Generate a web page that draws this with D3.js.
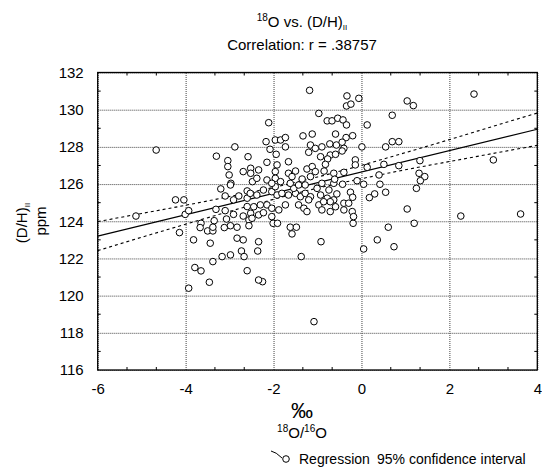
<!DOCTYPE html>
<html>
<head>
<meta charset="utf-8">
<script src="https://cdn.jsdelivr.net/npm/d3@7"></script>
<style>
  body { margin: 0; background: #fff; }
  svg text { font-family: "Liberation Sans", Arial, Helvetica, sans-serif; fill: #000; }
</style>
</head>
<body>
<svg id="chart" width="542" height="473"></svg>
<script>
// δ18O (‰) of each sample
const deltaO18 = [
  -4.67,-2.88,-3.30,-3.04,-2.58,-3.04,-3.01,-2.69,-2.52,-2.52,-2.97,-2.48,
  -1.18,-0.33,-0.06,-0.34,-0.24,-0.97,-2.11,-0.78,-0.67,-0.54,-0.42,-0.34,0.13,0.70,
  -1.33,-1.12,-0.59,-0.35,-0.20,-2.17,-1.96,-1.84,-1.73,
  -2.08,-1.73,-1.16,-1.05,-0.90,-0.72,-0.57,-0.44,-0.40,0.01,0.55,0.70,
  -1.94,-1.20,-0.93,-0.71,-0.59,-0.44,-0.77,-0.82,
  -2.15,-1.92,-1.66,-0.14,-0.14,0.13,0.51,
  -2.34,-1.96,-1.66,-1.50,-1.24,-1.12,-1.05,-0.85,
  -2.38,-2.15,-1.96,-1.58,-1.35,-1.16,-0.63,-0.40,0.40,
  2.56,1.04,1.18,0.85,0.85,1.33,3.00,1.31,1.44,1.34,
  -2.98,-3.20,-2.60,-3.10,-2.91,-2.79,-4.23,-4.04,-2.60,-2.60,
  -5.13,-4.01,-3.93,-3.31,-3.10,-2.91,-2.69,-2.52,-2.56,-3.07,-3.35,
  -3.65,-3.67,-3.50,-3.38,-3.38,-3.12,-2.98,-2.83,-2.56,
  -4.14,-3.82,-2.83,-2.69,-3.44,-2.73,-2.67,-2.98,-3.17,-3.38,
  -3.79,-3.65,-2.60,-3.46,-3.93,-2.25,-2.34,-1.08,
  -2.34,-2.36,-2.01,-1.91,-1.62,-1.48,-1.58,-0.92,-1.37,-0.19,0.05,0.36,0.61,0.74,
  1.25,1.04,1.20,2.26,3.62,
  -2.53,-2.38,-2.23,-2.04,-1.92,-1.81,-1.66,-1.50,-1.39,-1.28,-1.16,-0.93,-0.78,-0.63,
  -1.54,-1.01,-1.96,-0.74,
  -2.45,-2.30,-2.15,-2.04,-1.88,-1.73,-1.43,-1.31,-1.24,-0.97,-0.90,-0.71,-0.59,
  -2.49,-2.34,-2.23,-2.04,
  -2.04,-1.62,-1.43,-1.28,-0.90,-0.63,-1.84,
  -0.43,-0.61,-0.10,0.05,0.42,-0.56,-0.25,-0.20,0.30,0.18,0.55,
  -0.71,-0.40,-0.29,-0.40,-0.21,-0.18,-1.20,-0.86
];

// (D/H)II in ppm, same order as deltaO18
const dhII = [
  127.83,128.00,127.50,127.26,127.47,126.94,126.49,126.67,126.85,126.58,126.04,126.13,
  131.04,130.74,130.61,130.20,130.30,129.80,129.30,129.40,129.40,129.54,129.45,129.18,129.18,129.70,
  128.59,128.69,128.69,128.50,128.60,128.28,128.37,128.37,128.50,
  127.87,128.00,128.10,127.92,128.00,128.16,128.10,128.25,127.92,128.00,128.00,128.28,
  127.60,127.71,127.47,127.56,127.60,127.78,127.35,127.06,
  127.17,127.03,127.20,127.30,127.03,126.90,127.06,
  126.76,126.67,126.58,126.70,126.81,126.94,126.67,126.70,
  126.31,126.22,126.31,126.40,126.27,126.40,126.58,126.63,126.49,
  130.84,130.47,130.22,128.28,126.99,127.26,127.30,126.58,126.40,126.18,
  125.95,125.74,125.63,125.36,125.15,125.36,125.15,125.15,125.24,124.79,
  124.28,124.37,124.57,124.64,124.57,124.37,124.28,124.43,124.07,124.12,124.03,
  123.89,123.66,123.48,123.48,123.68,123.66,123.76,123.68,123.76,
  123.39,123.00,123.09,123.00,122.82,122.40,122.10,122.19,122.10,121.83,
  121.51,121.33,121.34,120.72,120.40,120.75,120.84,118.60,
  122.90,122.40,123.89,123.89,123.68,123.68,123.32,122.90,122.10,123.89,122.51,123.00,123.68,122.63,
  125.77,124.66,123.89,124.28,124.39,
  125.50,125.41,125.68,125.59,125.41,125.50,125.41,125.50,125.32,125.50,125.32,125.41,125.24,125.15,
  125.77,125.77,125.86,125.68,
  124.78,124.88,124.88,124.70,124.61,124.88,124.88,124.70,124.52,124.88,124.61,124.52,124.78,
  124.16,124.34,124.46,124.25,
  126.04,126.04,125.95,125.95,126.04,126.04,126.13,
  125.99,126.26,126.18,125.99,125.99,125.47,125.56,125.29,125.47,125.27,125.56,
  125.05,124.97,124.97,124.61,124.52,124.25,125.15,125.05
];

// Fitted regression line and its 95% confidence band
const fitX = [-6, 4];
const fitY = [123.20, 128.95];
const bandX = [-6, -5, -4, -3, -2, -1, 0, 1, 2, 3, 4];
const bandUpper = [123.98,124.42,124.86,125.33,125.82,126.38,127.01,127.69,128.39,129.11,129.82];
const bandLower = [122.42,123.14,123.84,124.53,125.18,125.78,126.29,126.77,127.21,127.65,128.08];

// Axis ticks
const xTicks = [-6, -4, -2, 0, 2, 4];
const yTicks = [116, 118, 120, 122, 124, 126, 128, 130, 132];

const svg = d3.select("#chart");
const pL = 97.7, pR = 537.3, pT = 72.5, pB = 370;

const x = d3.scaleLinear().domain([-6, 4]).range([pL, pR]);
const y = d3.scaleLinear().domain([116, 132]).range([pB, pT]);

// dotted grid + tick labels
const gx = svg.append("g")
  .attr("transform", `translate(0,${pB})`)
  .call(d3.axisBottom(x).tickValues(xTicks).tickFormat(d3.format("d"))
    .tickSizeInner(-(pB - pT)).tickSizeOuter(0).tickPadding(13));
const gy = svg.append("g")
  .attr("transform", `translate(${pL},0)`)
  .call(d3.axisLeft(y).tickValues(yTicks).tickFormat(d3.format("d"))
    .tickSizeInner(-(pR - pL)).tickSizeOuter(0).tickPadding(14));
[gx, gy].forEach(g => {
  g.select(".domain").remove();
  g.selectAll(".tick line").attr("stroke", "#444").attr("stroke-dasharray", "1,1");
  g.selectAll(".tick text").style("font-size", "15px").attr("fill", "#000");
});
gx.selectAll(".tick text").text(d => d < 0 ? "-" + Math.abs(d) : d);

// minor inward ticks on the frame
const xMinor = d3.range(-6, 4.001, 2 / 3).filter(v => Math.abs(v / 2 - Math.round(v / 2)) > 0.01);
const yMinor = d3.range(116, 132.001, 1).filter(v => v % 2 !== 0);
const minor = svg.append("g").attr("stroke", "#000").attr("stroke-width", 1);
xMinor.forEach(v => {
  minor.append("line").attr("x1", x(v)).attr("x2", x(v)).attr("y1", pB).attr("y2", pB - 3);
  minor.append("line").attr("x1", x(v)).attr("x2", x(v)).attr("y1", pT).attr("y2", pT + 3);
});
yMinor.forEach(v => {
  minor.append("line").attr("x1", pL).attr("x2", pL + 3).attr("y1", y(v)).attr("y2", y(v));
  minor.append("line").attr("x1", pR).attr("x2", pR - 3).attr("y1", y(v)).attr("y2", y(v));
});

// regression line and confidence band
svg.append("clipPath").attr("id", "plot-clip")
  .append("rect").attr("x", pL).attr("y", pT).attr("width", pR - pL).attr("height", pB - pT);
const plot = svg.append("g").attr("clip-path", "url(#plot-clip)");

const bandLine = d3.line().curve(d3.curveNatural).x(d => x(d[0])).y(d => y(d[1]));
[bandUpper, bandLower].forEach(b => {
  plot.append("path")
    .attr("d", bandLine(bandX.map((v, i) => [v, b[i]])))
    .attr("fill", "none").attr("stroke", "#000").attr("stroke-width", 1.1)
    .attr("stroke-dasharray", "3,3");
});
plot.append("path")
  .attr("d", d3.line().x(d => x(d[0])).y(d => y(d[1]))(fitX.map((v, i) => [v, fitY[i]])))
  .attr("fill", "none").attr("stroke", "#000").attr("stroke-width", 1.2);

// observations
plot.selectAll("circle.obs")
  .data(deltaO18.map((v, i) => [v, dhII[i]]))
  .join("circle").attr("class", "obs")
  .attr("cx", d => x(d[0])).attr("cy", d => y(d[1])).attr("r", 3.3)
  .attr("fill", "#fff").attr("stroke", "#000").attr("stroke-width", 1);

// frame
svg.append("rect").attr("x", pL).attr("y", pT)
  .attr("width", pR - pL).attr("height", pB - pT)
  .attr("fill", "none").attr("stroke", "#000").attr("stroke-width", 1.3);

// titles
const cx = 302;
const t1 = svg.append("text").attr("x", cx).attr("y", 27).attr("text-anchor", "middle").style("font-size", "15px");
t1.append("tspan").text("18").style("font-size", "10px").attr("dy", "-6");
t1.append("tspan").text("O vs. (D/H)").attr("dy", "6");
t1.append("tspan").text("II").style("font-size", "8px").attr("dy", "3");
svg.append("text").attr("x", cx).attr("y", 50).attr("text-anchor", "middle")
  .style("font-size", "15px").text("Correlation: r = .38757");

// y-axis title
const yl = svg.append("text").attr("transform", "translate(27,223) rotate(-90)")
  .attr("text-anchor", "middle").style("font-size", "15px");
yl.append("tspan").text("(D/H)");
yl.append("tspan").text("II").style("font-size", "8px").attr("dy", "3");
svg.append("text").attr("transform", "translate(46,221) rotate(-90)")
  .attr("text-anchor", "middle").style("font-size", "15px").text("ppm");

// x-axis title
svg.append("text").attr("x", cx).attr("y", 418).attr("text-anchor", "middle")
  .style("font-size", "22px").text("‰");
const xl = svg.append("text").attr("x", cx).attr("y", 438).attr("text-anchor", "middle").style("font-size", "15px");
xl.append("tspan").text("18").style("font-size", "10px").attr("dy", "-6");
xl.append("tspan").text("O/").attr("dy", "6");
xl.append("tspan").text("16").style("font-size", "10px").attr("dy", "-6");
xl.append("tspan").text("O").attr("dy", "6");

// legend
const lg = svg.append("g");
lg.append("path").attr("d", "M271,451 Q276,452 282,458").attr("fill", "none").attr("stroke", "#000");
lg.append("circle").attr("cx", 286).attr("cy", 459).attr("r", 3.3).attr("fill", "#fff").attr("stroke", "#000");
lg.append("text").attr("x", 299).attr("y", 464).style("font-size", "14px").text("Regression");
lg.append("text").attr("x", 377).attr("y", 464).style("font-size", "14px").text("95% confidence interval");
</script>
</body>
</html>
